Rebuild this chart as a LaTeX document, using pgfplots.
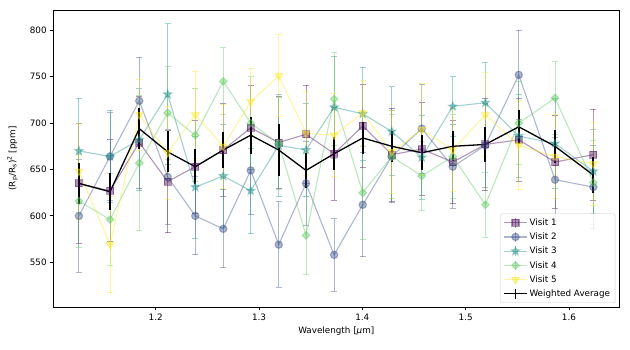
\documentclass[border=0pt]{standalone}
\usepackage{fontspec}
\setmainfont{DejaVu Sans}
\usepackage{pgfplots}
\usepackage{pgfplotstable}
\pgfplotsset{compat=1.18}

\definecolor{cA}{HTML}{440154}
\definecolor{cB}{HTML}{3B528B}
\definecolor{cC}{HTML}{21918C}
\definecolor{cD}{HTML}{5EC962}
\definecolor{cE}{HTML}{FDE725}

% filled five-pointed star, like matplotlib's '*'
\pgfdeclareplotmark{fivestar}{%
  \pgfpathmoveto{\pgfpointpolar{90}{\pgfplotmarksize}}%
  \pgfpathlineto{\pgfpointpolar{126}{0.42\pgfplotmarksize}}%
  \pgfpathlineto{\pgfpointpolar{162}{\pgfplotmarksize}}%
  \pgfpathlineto{\pgfpointpolar{198}{0.42\pgfplotmarksize}}%
  \pgfpathlineto{\pgfpointpolar{234}{\pgfplotmarksize}}%
  \pgfpathlineto{\pgfpointpolar{270}{0.42\pgfplotmarksize}}%
  \pgfpathlineto{\pgfpointpolar{306}{\pgfplotmarksize}}%
  \pgfpathlineto{\pgfpointpolar{342}{0.42\pgfplotmarksize}}%
  \pgfpathlineto{\pgfpointpolar{18}{\pgfplotmarksize}}%
  \pgfpathlineto{\pgfpointpolar{54}{0.42\pgfplotmarksize}}%
  \pgfpathclose
  \pgfusepathqfillstroke
}

% transit depth per visit, ppm (value, error)
\pgfplotstableread{
x      v1  e1  v2  e2  v3  e3  v4  e4  v5  e5  av  ea
1.1257 635 65  600 61  670 57  616 50  648 52  635 22
1.1558 627 55  664 47  664 50  596 50  569 52  626 20
1.1841 679 50  724 47  682 55  657 73  709 38  694 22
1.2116 637 55  642 51  731 76  711 50  668 50  669 22
1.2383 653 50  600 42  631 55  687 50  709 47  653 19
1.2654 671 50  586 42  643 55  745 36  675 45  671 19
1.2920 695 45  649 48  627 46  700 50  723 36  687 20
1.3191 679 50  569 46  676 55  678 50  751 44  671 28
1.3455 688 53  635 45  671 50  579 42  689 45  649 19
1.3727 667 50  558 39  717 55  726 50  687 45  667 18
1.4004 697 45  612 56  710 50  625 50  711 35  684 17
1.4285 666 50  664 50  691 48  664 45  669 45  675 17
1.4575 672 50  694 48  663 45  643 37  693 50  668 19
1.4875 658 45  653 45  718 32  664 45  671 45  675 16
1.5191 677 50  676 45  722 43  612 35  709 45  677 19
1.5514 682 45  752 48  686 45  700 45  676 48  696 18
1.5865 658 50  639 45  678 48  727 39  664 45  675 18
1.6236 666 49  631 45  648 45  636 45  656 45  644 19
}\spec

\pgfplotsset{
  visit/.style={color=#1, line width=1.1pt, opacity=0.42,
    mark options={solid, fill=#1, draw=#1, opacity=0.42},
    error bars/y dir=both, error bars/y explicit,
    error bars/error bar style={line width=1pt, #1, opacity=0.42},
    error bars/error mark=-,
    error bars/error mark options={rotate=90, #1, mark size=3pt, line width=1pt, opacity=0.42}},
}

\begin{document}
\fontsize{8.8}{10.5}\selectfont
\begin{tikzpicture}
\path[use as bounding box] (-53.3pt,-43pt) rectangle (576.7pt,307pt);
\begin{axis}[
    at={(0,0)}, anchor=south west,
    scale only axis,
    width=566pt, height=297pt,
    xmin=1.1009, xmax=1.6487,
    ymin=501.8, ymax=821.9,
    xtick={1.2,1.3,1.4,1.5,1.6},
    ytick={550,600,...,800},
    x tick label style={/pgf/number format/.cd, fixed, fixed zerofill, precision=1},
    /pgf/number format/assume math mode=true,
    tick label style={font=\fontsize{8.8}{10.5}\selectfont},
    label style={font=\fontsize{8.8}{10.5}\selectfont},
    tick align=outside, tick pos=left,
    major tick length=3.5pt,
    every tick/.style={black, line width=0.8pt},
    axis line style={line width=0.8pt},
    xlabel={Wavelength [\textit{μ}m]},
    ylabel={(R\textsubscript{p}/R\textsubscript{s})\textsuperscript{2} [ppm]},
    xlabel style={at={(axis description cs:0.5,0)}, yshift=-24pt, anchor=center},
    ylabel style={at={(axis description cs:-0.0724,0.5)}, anchor=center},
    legend cell align=left,
    legend style={at={(0.993,0.0135)}, anchor=south east,
      draw=black!20, rounded corners=2pt, fill=white, fill opacity=0.8,
      text opacity=1, font=\fontsize{8.8}{10.5}\selectfont,
      row sep=2.2pt, inner xsep=3pt, inner ysep=3pt},
    legend image code/.code={
      \draw[#1, mark=none] (0.4cm,-0.17cm) -- (0.4cm,0.17cm);
      \draw[mark repeat=2, mark phase=2, #1] plot coordinates {(0cm,0cm) (0.4cm,0cm) (0.8cm,0cm)};
    },
]
\addplot[visit=cA, mark=square*, mark size=3.5pt]
  table[x=x, y=v1, y error=e1] {\spec};
\addlegendentry{Visit 1}
\addplot[visit=cB, mark=*, mark size=3.7pt]
  table[x=x, y=v2, y error=e2] {\spec};
\addlegendentry{Visit 2}
\addplot[visit=cC, mark=fivestar, mark size=4.2pt]
  table[x=x, y=v3, y error=e3] {\spec};
\addlegendentry{Visit 3}
\addplot[visit=cD, mark=square*, mark size=2.7pt, mark options={rotate=45}]
  table[x=x, y=v4, y error=e4] {\spec};
\addlegendentry{Visit 4}
\addplot[visit=cE, mark=triangle*, mark size=4.3pt, mark options={rotate=180}]
  table[x=x, y=v5, y error=e5] {\spec};
\addlegendentry{Visit 5}
\addplot[black, line width=1.3pt, mark=none,
    error bars/.cd, y dir=both, y explicit,
    error bar style={line width=2pt, black}, error mark=none]
  table[x=x, y=av, y error=ea] {\spec};
\addlegendentry{Weighted Average}
\end{axis}
\end{tikzpicture}
\end{document}
